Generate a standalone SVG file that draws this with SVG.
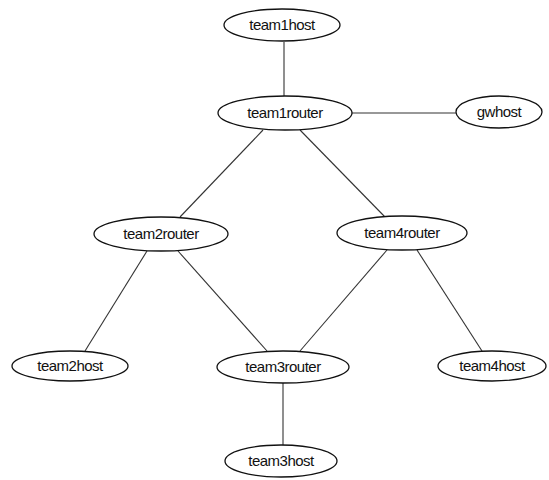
<svg xmlns="http://www.w3.org/2000/svg" width="549" height="480" viewBox="0 0 549 480">
<style>
.n ellipse{fill:#fff;stroke:#111;stroke-width:1.3}
.n text{font-family:"Liberation Sans",Arial,sans-serif;font-size:15px;text-anchor:middle;fill:#111;letter-spacing:-0.5px}
#edges line{stroke:#333;stroke-width:1.1}
</style>
<rect width="549" height="480" fill="#fff"/>
<g id="edges">
<line x1="284" y1="42" x2="284" y2="96"/>
<line x1="352" y1="113" x2="456" y2="113"/>
<line x1="263" y1="130" x2="180" y2="217"/>
<line x1="300" y1="130" x2="385" y2="217"/>
<line x1="147" y1="251" x2="85" y2="351"/>
<line x1="178" y1="251" x2="267" y2="351"/>
<line x1="387" y1="250" x2="300" y2="351"/>
<line x1="417" y1="250" x2="482" y2="351"/>
<line x1="283" y1="383" x2="283" y2="445"/>
</g>
<g id="team1host" class="n"><ellipse cx="282" cy="25" rx="58" ry="16"/><text x="282" y="30">team1host</text></g>
<g id="team1router" class="n"><ellipse cx="285" cy="113" rx="67" ry="17"/><text x="285" y="118">team1router</text></g>
<g id="gwhost" class="n"><ellipse cx="499" cy="112" rx="43" ry="16"/><text x="499" y="117">gwhost</text></g>
<g id="team2router" class="n"><ellipse cx="161" cy="234" rx="67" ry="17"/><text x="161" y="239">team2router</text></g>
<g id="team4router" class="n"><ellipse cx="402" cy="233" rx="65" ry="17"/><text x="402" y="238">team4router</text></g>
<g id="team2host" class="n"><ellipse cx="70" cy="366" rx="58" ry="15"/><text x="70" y="371">team2host</text></g>
<g id="team3router" class="n"><ellipse cx="283" cy="367" rx="66" ry="16"/><text x="283" y="372">team3router</text></g>
<g id="team4host" class="n"><ellipse cx="492" cy="366" rx="54" ry="15"/><text x="492" y="371">team4host</text></g>
<g id="team3host" class="n"><ellipse cx="281" cy="461" rx="56" ry="16"/><text x="281" y="466">team3host</text></g>
</svg>
